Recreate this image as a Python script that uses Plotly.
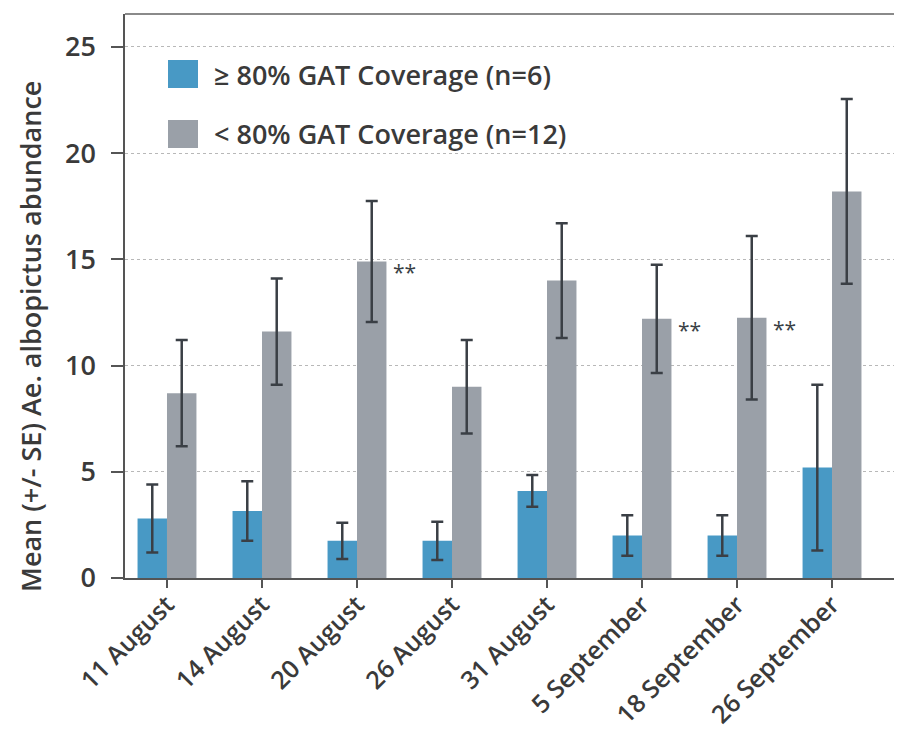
import plotly.graph_objects as go

dates = ["11 August", "14 August", "20 August", "26 August", "31 August",
         "5 September", "18 September", "26 September"]
high_cov = [2.8, 3.15, 1.75, 1.75, 4.1, 2.0, 2.0, 5.2]
high_err = [1.6, 1.4, 0.85, 0.9, 0.75, 0.95, 0.95, 3.9]
low_cov = [8.7, 11.6, 14.9, 9.0, 14.0, 12.2, 12.25, 18.2]
low_err = [2.5, 2.5, 2.85, 2.2, 2.7, 2.55, 3.85, 4.35]
signif = ["20 August", "5 September", "18 September"]
series_names = ["≥ 80% GAT Coverage (n=6)", "< 80% GAT Coverage (n=12)"]
y_title = "Mean (+/- SE) Ae. albopictus abundance"

BLUE = "#4899c5"
GRAY = "#9aa0a8"
DARK = "#3a3f45"
TEXT = "#3a3a3a"
FONT = "Open Sans"

# the page body adds an 8px margin; the figure is sized to fit
OFF = 8
FW, FH = 902 - OFF, 729 - OFF
# plot area in figure pixels
L, R, T, B = 125 - OFF, 899 - OFF, 14 - OFF, 578 - OFF
W, H = R - L, B - T

fig = go.Figure()
fig.add_trace(go.Bar(
    x=dates, y=high_cov, name=series_names[0], marker_color=BLUE,
    marker_line_width=0, width=0.31, offset=-0.31,
    error_y=dict(type="data", array=high_err, color=DARK, thickness=2.5, width=6),
    showlegend=False))
fig.add_trace(go.Bar(
    x=dates, y=low_cov, name=series_names[1], marker_color=GRAY,
    marker_line_width=0, width=0.31, offset=0,
    error_y=dict(type="data", array=low_err, color=DARK, thickness=2.5, width=6),
    showlegend=False))

# significance markers
for d in signif:
    i = dates.index(d)
    fig.add_annotation(x=d, y=low_cov[i], text="**", showarrow=False,
                       xanchor="left", yanchor="middle", xshift=34, yshift=-11,
                       font=dict(family=FONT, size=21, color=DARK))


def px(x):
    return (x - OFF - L) / W


def py(y):
    return (B - (y - OFF)) / H


# manual legend (page-pixel positions)
legend_items = [(series_names[0], BLUE, 60), (series_names[1], GRAY, 120)]
for name, col, top in legend_items:
    fig.add_shape(type="rect", xref="paper", yref="paper",
                  x0=px(168), x1=px(198), y0=py(top + 28), y1=py(top),
                  fillcolor=col, line_width=0)
    fig.add_annotation(xref="paper", yref="paper", x=px(212), y=py(top + 14),
                       text=name, showarrow=False, xanchor="left", yanchor="middle",
                       font=dict(family=FONT, size=27, color=TEXT, weight=600))

# y-axis title
fig.add_annotation(xref="paper", yref="paper", x=px(30), y=py(337),
                   text=y_title, textangle=-90, showarrow=False,
                   xanchor="center", yanchor="middle",
                   font=dict(family=FONT, size=27, color=TEXT, weight=600))

# top and right frame lines
fig.add_shape(type="line", xref="paper", yref="paper", x0=0, x1=1, y0=1, y1=1,
              line=dict(color="#8a8a8a", width=2))
fig.add_shape(type="line", xref="paper", yref="paper", x0=1, x1=1, y0=0, y1=1,
              line=dict(color="#8a8a8a", width=2))

fig.update_layout(
    width=FW, height=FH,
    margin=dict(l=L, r=FW - R, t=T, b=FH - B, autoexpand=False),
    paper_bgcolor="white", plot_bgcolor="white",
    barmode="overlay",
    font=dict(family=FONT, color=TEXT),
    xaxis=dict(
        range=[-0.442, 7.705], tickangle=-45,
        showline=True, linecolor="#555", linewidth=2,
        ticks="outside", ticklen=8, tickcolor="#555", tickwidth=1.5,
        tickfont=dict(family=FONT, size=25, color=TEXT, weight=600),
        ticklabelstandoff=-8,
        showgrid=False, zeroline=False,
    ),
    yaxis=dict(
        range=[0, 26.55], tickvals=[0, 5, 10, 15, 20, 25],
        showline=True, linecolor="#555", linewidth=1.5,
        ticks="outside", ticklen=12, tickcolor="#555", tickwidth=1.5,
        tickfont=dict(family=FONT, size=27, color=TEXT, weight=600),
        ticklabelstandoff=10,
        showgrid=True, gridcolor="#b8b8b8", griddash="dot", gridwidth=1,
        zeroline=False,
    ),
)

fig.write_html("out.html")
